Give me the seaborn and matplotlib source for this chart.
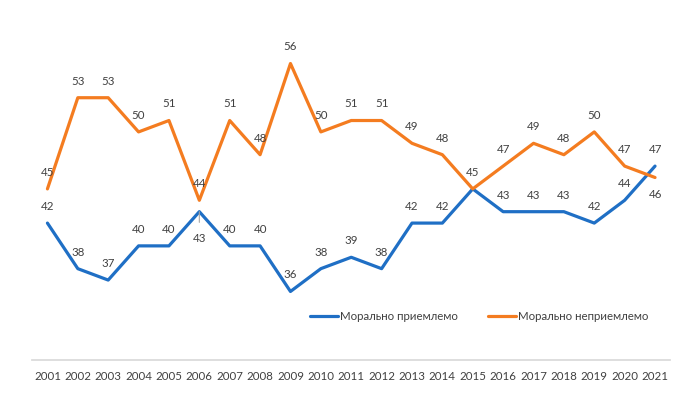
import pandas as pd
import matplotlib
matplotlib.use("Agg")
import matplotlib.pyplot as plt
import seaborn as sns

years = [str(y) for y in range(2001, 2022)]
acceptable = [42, 38, 37, 40, 40, 43, 40, 40, 36, 38, 39, 38, 42, 42, 45, 43, 43, 43, 42, 44, 47]
unacceptable = [45, 53, 53, 50, 51, 44, 51, 48, 56, 50, 51, 51, 49, 48, 45, 47, 49, 48, 50, 47, 46]
series_names = ["Морально приемлемо", "Морально неприемлемо"]

df = pd.DataFrame({"year": years * 2,
                   "value": acceptable + unacceptable,
                   "series": [series_names[0]] * len(years) + [series_names[1]] * len(years)})
df["x"] = list(range(len(years))) * 2

sns.set_theme(style="white")
plt.rcParams['font.family'] = ['Lato', 'DejaVu Sans']

colors = {series_names[0]: "#1f6fc5", series_names[1]: "#f47c20"}
text_color = "#404040"
fs = 8.3

fig = plt.figure(figsize=(6.86, 3.95), dpi=100)
ax = fig.add_axes([0.047, 0.089, 0.93, 0.88])

sns.lineplot(data=df, x="x", y="value", hue="series", palette=colors,
             linewidth=2.3, ax=ax, legend=True)

ax.set_xlim(-0.5, len(years) - 0.5)
ax.set_ylim(30, 60.5)
ax.set_xticks(range(len(years)))
ax.set_xticklabels(years, fontsize=fs, color=text_color)
ax.set_yticks([])
ax.set_xlabel("")
ax.set_ylabel("")
for side in ["top", "right", "left"]:
    ax.spines[side].set_visible(False)
ax.spines["bottom"].set_color("#d9d9d9")
ax.tick_params(axis="x", length=0, pad=8)

# data labels
for i, v in enumerate(unacceptable):
    dy = -12 if i == len(years) - 1 else 12
    ax.annotate(str(v), (i, v), xytext=(0, dy), textcoords="offset points",
                ha="center", va="center", fontsize=fs, color=text_color)
for i, v in enumerate(acceptable):
    if i == 5:
        ax.annotate(str(v), (i, v), xytext=(0, -19), textcoords="offset points",
                    ha="center", va="center", fontsize=fs, color=text_color,
                    arrowprops=dict(arrowstyle="-", color="#a6a6a6", lw=0.8,
                                    shrinkA=5, shrinkB=0))
    elif i == 14:
        continue
    else:
        ax.annotate(str(v), (i, v), xytext=(0, 12), textcoords="offset points",
                    ha="center", va="center", fontsize=fs, color=text_color)

leg = ax.legend(loc="center", bbox_to_anchor=(0.701, 0.125), ncol=2, frameon=False,
                fontsize=fs, handlelength=2.4, handletextpad=0.2, columnspacing=2.6)
for t in leg.get_texts():
    t.set_color(text_color)

fig.savefig("out.png", dpi=100)
